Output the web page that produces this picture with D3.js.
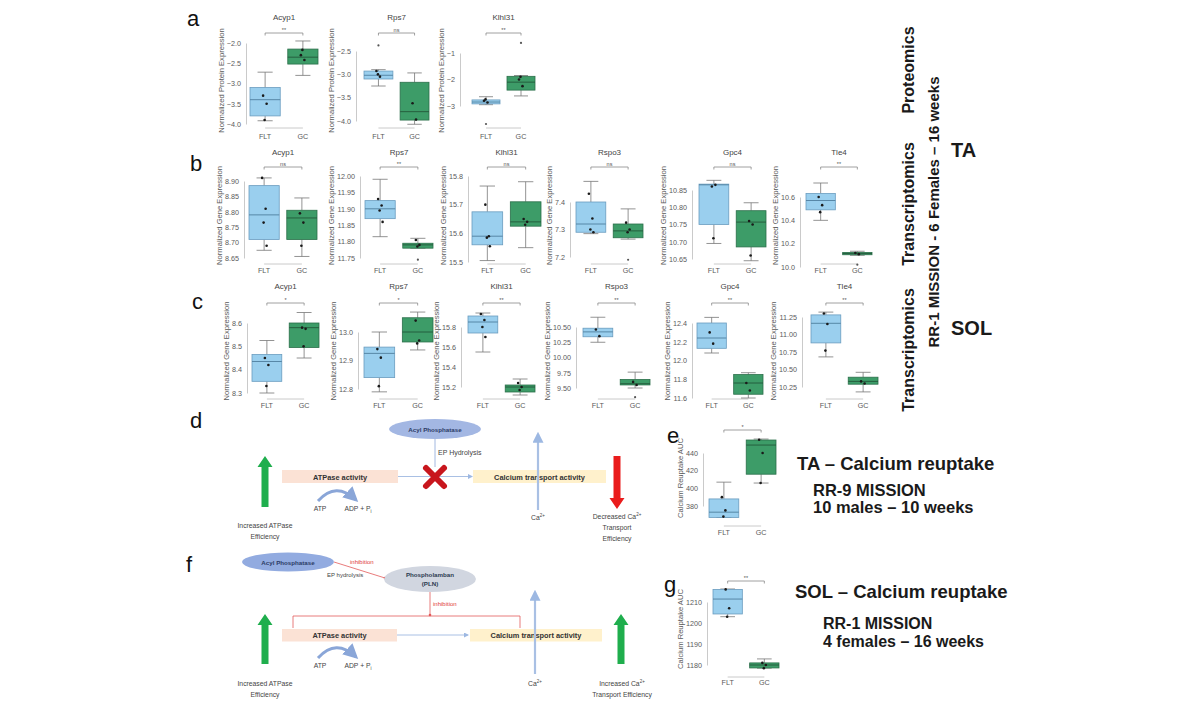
<!DOCTYPE html>
<html><head><meta charset="utf-8">
<script src="https://cdn.jsdelivr.net/npm/d3@7"></script>
<style>body{margin:0;background:#fff} svg{display:block} text{font-family:"Liberation Sans",Arial,sans-serif}</style>
</head><body><svg id="c" width="1199" height="726"></svg>
<script>
const groups = ["FLT", "GC"];

// ---- a: TA proteomics ----
const genesA = ["Acyp1", "Rps7", "Klhl31"];
const statsA = [ // [low whisker, q1, median, q3, high whisker] for FLT, GC
  [[-3.92, -3.80, -3.40, -3.10, -2.72], [-2.80, -2.52, -2.35, -2.15, -1.95]],
  [[-3.25, -3.10, -3.02, -2.93, -2.90], [-4.07, -3.98, -3.80, -3.17, -2.97]],
  [[-2.95, -2.92, -2.85, -2.77, -2.65], [-2.62, -2.40, -2.10, -1.88, -1.85]]
];
const pointsA = [
  [[-3.30, -3.50, -3.90], [-2.30, -2.42, -2.17]],
  [[-2.93, -3.05, -3.00], [-3.62, -3.97]],
  [[-2.80, -2.87, -2.75], [-2.00, -2.25, -1.90]]
];
const outliersA = [[[], []], [[-2.38], []], [[-3.68], [-0.62]]];
const ticksA = [["-4.0", "-3.5", "-3.0", "-2.5", "-2.0"], ["-4.0", "-3.5", "-3.0", "-2.5"], ["-3", "-2", "-1"]];
const sigA = ["**", "ns", "**"];

// ---- b: TA transcriptomics ----
const genesB = ["Acyp1", "Rps7", "Klhl31", "Rspo3", "Gpc4", "Tle4"];
const statsB = [
  [[8.675, 8.71, 8.79, 8.885, 8.91], [8.655, 8.71, 8.78, 8.805, 8.845]],
  [[11.815, 11.87, 11.90, 11.925, 11.99], [11.78, 11.78, 11.79, 11.795, 11.81]],
  [[15.505, 15.56, 15.59, 15.675, 15.765], [15.55, 15.625, 15.64, 15.71, 15.78]],
  [[7.285, 7.29, 7.32, 7.40, 7.475], [7.265, 7.27, 7.295, 7.32, 7.375]],
  [[10.695, 10.75, 10.865, 10.867, 10.878], [10.645, 10.685, 10.757, 10.79, 10.813]],
  [[10.40, 10.49, 10.57, 10.63, 10.72], [10.10, 10.105, 10.115, 10.125, 10.135]]
];
const pointsB = [
  [[8.91, 8.81, 8.765, 8.69], [8.795, 8.765, 8.69]],
  [[11.93, 11.91, 11.895, 11.86], [11.805, 11.79, 11.785]],
  [[15.70, 15.59, 15.585, 15.555], [15.65, 15.64, 15.63]],
  [[7.43, 7.34, 7.30, 7.29], [7.325, 7.30, 7.29]],
  [[10.86, 10.865, 10.71], [10.76, 10.75, 10.66]],
  [[10.60, 10.53, 10.47], [10.12, 10.11]]
];
const outliersB = [[[], []], [[], [11.745]], [[], []], [[], [7.19]], [[], []], [[], [10.02]]];
const ticksB = [["8.65", "8.70", "8.75", "8.80", "8.85", "8.90"], ["11.75", "11.80", "11.85", "11.90", "11.95", "12.00"],
  ["15.5", "15.6", "15.7", "15.8"], ["7.2", "7.3", "7.4"], ["10.65", "10.70", "10.75", "10.80", "10.85"], ["10.0", "10.2", "10.4", "10.6"]];
const sigB = ["ns", "**", "ns", "ns", "ns", "**"];

// ---- c: SOL transcriptomics ----
const genesC = ["Acyp1", "Rps7", "Klhl31", "Rspo3", "Gpc4", "Tle4"];
const statsC = [
  [[8.30, 8.35, 8.435, 8.465, 8.525], [8.45, 8.495, 8.58, 8.60, 8.645]],
  [[12.79, 12.84, 12.925, 12.947, 13.0], [12.937, 12.965, 13.0, 13.05, 13.07]],
  [[15.55, 15.74, 15.85, 15.91, 15.94], [15.12, 15.15, 15.20, 15.22, 15.28]],
  [[10.25, 10.34, 10.42, 10.48, 10.66], [9.50, 9.55, 9.57, 9.64, 9.76]],
  [[12.08, 12.13, 12.24, 12.40, 12.46], [11.60, 11.64, 11.76, 11.85, 11.87]],
  [[10.68, 10.88, 11.16, 11.28, 11.32], [10.18, 10.29, 10.33, 10.39, 10.46]]
];
const pointsC = [
  [[8.45, 8.42, 8.33], [8.58, 8.575, 8.50]],
  [[12.94, 12.91, 12.81], [13.04, 12.97, 12.96]],
  [[15.93, 15.87, 15.80, 15.70], [15.24, 15.20, 15.17]],
  [[10.46, 10.35], [9.60, 9.55]],
  [[12.30, 12.18], [11.76, 11.68]],
  [[11.30, 11.15, 10.77], [10.33, 10.30]]
];
const outliersC = [[[], []], [[], []], [[], []], [[], [9.35]], [[], []], [[], []]];
const ticksC = [["8.3", "8.4", "8.5", "8.6"], ["12.8", "12.9", "13.0"], ["15.2", "15.4", "15.6", "15.8"],
  ["9.50", "9.75", "10.00", "10.25", "10.50"], ["11.6", "11.8", "12.0", "12.2", "12.4"], ["10.25", "10.50", "10.75", "11.00", "11.25"]];
const sigC = ["*", "*", "**", "**", "**", "**"];

// ---- e / g: calcium reuptake ----
const statsE = [[[367, 367, 373, 388, 407], [406, 416, 449, 454.7, 455.8]]];
const pointsE = [[[390, 375, 368], [455, 440, 406]]];
const outliersE = [[[], []]];
const ticksE = [["380", "400", "420", "440"]];
const sigE = ["*"];

const statsG = [[[1203, 1204.3, 1211.4, 1216, 1216.2], [1178.5, 1178.6, 1180, 1181, 1182.9]]];
const pointsG = [[[1216, 1207, 1203], [1181, 1180, 1178.5]]];
const outliersG = [[[], []]];
const ticksG = [["1180", "1190", "1200", "1210"]];
const sigG = ["**"];

// ---- layout (pixel frames) ----
const layoutA = [{axis: 246, top: 43, bottom: 124, band: [250, 318]}, {axis: 356, top: 51, bottom: 121, band: [364, 429]}, {axis: 460, top: 53, bottom: 106, band: [472, 535]}];
const rowA = {titleY: 20, bracketY: 33, lineY: 128, labelY: 139, yLabel: "Normalized Protein Expression"};
const layoutB = [{axis: 244, top: 181, bottom: 258, band: [249, 317]}, {axis: 360, top: 176, bottom: 258, band: [365, 433]},
  {axis: 468, top: 176, bottom: 262, band: [472, 541]}, {axis: 570, top: 202, bottom: 257, band: [576, 643]},
  {axis: 692, top: 190, bottom: 259, band: [699, 766]}, {axis: 800, top: 197, bottom: 267, band: [806, 872]}];
const rowB = {titleY: 155, bracketY: 167, lineY: 264, labelY: 273, yLabel: "Normalized Gene Expression"};
const layoutC = [{axis: 247, top: 323, bottom: 393, band: [252, 319]}, {axis: 358, top: 332, bottom: 389, band: [364, 433]},
  {axis: 461, top: 327, bottom: 387, band: [468, 535]}, {axis: 576, top: 327, bottom: 388, band: [583, 650]},
  {axis: 692, top: 323, bottom: 398, band: [697, 763]}, {axis: 802, top: 317, bottom: 387, band: [811, 878]}];
const rowC = {titleY: 289, bracketY: 303, lineY: 399, labelY: 408, yLabel: "Normalized Gene Expression"};
const layoutE = [{axis: 703, top: 453, bottom: 506, band: [709, 776]}];
const rowE = {titleY: null, bracketY: 430, lineY: 526, labelY: 535, yLabel: "Calcium Reuptake AUC"};
const layoutG = [{axis: 707, top: 602, bottom: 665, band: [713, 779]}];
const rowG = {titleY: null, bracketY: 581, lineY: 677, labelY: 685, yLabel: "Calcium Reuptake AUC"};

const svg = d3.select("#c");
const FILL = {FLT: "#9acfee", GC: "#3d9c68"};
const EDGE = {FLT: "#6a9cbf", GC: "#2b6f4a"};
const MED = {FLT: "#4f7f9e", GC: "#22583a"};
const jit = [-2, 1.5, -0.5, 2.5];

function drawRow(genes, stats, points, outliers, ticks, sigs, layout, row) {
  stats.forEach((st, k) => {
    const lay = layout[k];
    const tv = ticks[k].map(Number);
    const g = svg.append("g");
    const y = d3.scaleLinear().domain([tv[0], tv[tv.length - 1]]).range([lay.bottom, lay.top]);
    const x = d3.scaleBand().domain(groups).range(lay.band).paddingInner(0.2);
    const bw = x.bandwidth();
    const cx = d => x(d) + bw / 2;

    // y axis
    const ax = g.append("g").attr("transform", `translate(${lay.axis},0)`).attr("color", "#5a5a5a")
      .call(d3.axisLeft(y).tickValues(tv).tickSize(0).tickPadding(5)
        .tickFormat((d, i) => ticks[k][i].replace("-", "\u2212")));
    ax.attr("font-family", '"Liberation Sans",Arial,sans-serif').attr("font-size", 7.2);
    ax.select(".domain").attr("stroke", "#c4c4c4").attr("stroke-width", 0.9);
    ax.selectAll("text").attr("fill", "#5a5a5a");
    const bb = ax.node().getBBox();
    const ylx = lay.axis + bb.x - 3;
    const ylc = (row.bracketY + row.lineY) / 2;
    g.append("text").attr("transform", `translate(${ylx},${ylc}) rotate(-90)`)
      .attr("text-anchor", "middle").attr("font-size", 7.6).attr("fill", "#5a5a5a").text(row.yLabel);

    // x axis
    g.append("line").attr("x1", cx("FLT")).attr("x2", cx("GC")).attr("y1", row.lineY).attr("y2", row.lineY)
      .attr("stroke", "#c4c4c4").attr("stroke-width", 0.9);
    groups.forEach(gr => g.append("text").attr("x", cx(gr)).attr("y", row.labelY).attr("text-anchor", "middle")
      .attr("font-size", 7.2).attr("fill", "#5a5a5a").text(gr));

    // title
    if (row.titleY !== null && genes) {
      g.append("text").attr("x", (lay.band[0] + lay.band[1]) / 2).attr("y", row.titleY).attr("text-anchor", "middle")
        .attr("font-size", 8).attr("fill", "#444").text(genes[k]);
    }

    // significance bracket
    const b = row.bracketY;
    g.append("path").attr("d", `M${cx("FLT")},${b + 2.5}V${b}H${cx("GC")}V${b + 2.5}`)
      .attr("fill", "none").attr("stroke", "#888").attr("stroke-width", 0.8);
    g.append("text").attr("x", (cx("FLT") + cx("GC")) / 2).attr("y", b - 1.5).attr("text-anchor", "middle")
      .attr("font-size", 5.5).attr("fill", "#555").text(sigs[k]);

    // boxes
    groups.forEach((gr, i) => {
      const [lo, q1, md, q3, hi] = st[i];
      const c = cx(gr);
      g.append("line").attr("x1", c).attr("x2", c).attr("y1", y(lo)).attr("y2", y(q1)).attr("stroke", "#777").attr("stroke-width", 0.8);
      g.append("line").attr("x1", c).attr("x2", c).attr("y1", y(q3)).attr("y2", y(hi)).attr("stroke", "#777").attr("stroke-width", 0.8);
      [lo, hi].forEach(v => g.append("line").attr("x1", c - bw / 4).attr("x2", c + bw / 4).attr("y1", y(v)).attr("y2", y(v))
        .attr("stroke", "#777").attr("stroke-width", 0.8));
      g.append("rect").attr("x", x(gr)).attr("width", bw).attr("y", y(q3)).attr("height", Math.max(1.5, y(q1) - y(q3)))
        .attr("fill", FILL[gr]).attr("stroke", EDGE[gr]).attr("stroke-width", 0.8);
      g.append("line").attr("x1", x(gr)).attr("x2", x(gr) + bw).attr("y1", y(md)).attr("y2", y(md))
        .attr("stroke", MED[gr]).attr("stroke-width", 0.9);
      points[k][i].forEach((v, j) => g.append("circle").attr("cx", c + jit[j % 4]).attr("cy", y(v)).attr("r", 1.3).attr("fill", "#1a1a1a"));
      outliers[k][i].forEach(v => g.append("circle").attr("cx", c).attr("cy", y(v)).attr("r", 1.1).attr("fill", "#555"));
    });
  });
}

drawRow(genesA, statsA, pointsA, outliersA, ticksA, sigA, layoutA, rowA);
drawRow(genesB, statsB, pointsB, outliersB, ticksB, sigB, layoutB, rowB);
drawRow(genesC, statsC, pointsC, outliersC, ticksC, sigC, layoutC, rowC);
drawRow(null, statsE, pointsE, outliersE, ticksE, sigE, layoutE, rowE);
drawRow(null, statsG, pointsG, outliersG, ticksG, sigG, layoutG, rowG);

// ---- panel letters ----
[["a", 187, 26], ["b", 190, 171], ["c", 192, 309], ["d", 190, 428], ["e", 667, 443], ["f", 186, 572], ["g", 664, 592]]
  .forEach(([t, xx, yy]) => svg.append("text").attr("x", xx).attr("y", yy).attr("font-size", 22).attr("fill", "#111").text(t));

// ---- right-side labels ----
function vtext(t, xx, yy, fs) {
  svg.append("text").attr("transform", `translate(${xx},${yy}) rotate(-90)`).attr("text-anchor", "middle")
    .attr("font-size", fs).attr("font-weight", "bold").attr("fill", "#1a1a1a").text(t);
}
vtext("Proteomics", 914, 70, 16);
vtext("Transcriptomics", 914, 204, 16);
vtext("Transcriptomics", 914, 350, 16);
vtext("RR-1 MISSION - 6 Females \u2013 16 weeks", 939, 212, 15);
svg.append("text").attr("x", 951).attr("y", 157).attr("font-size", 20).attr("font-weight", "bold").attr("fill", "#1a1a1a").text("TA");
svg.append("text").attr("x", 951).attr("y", 335).attr("font-size", 20).attr("font-weight", "bold").attr("fill", "#1a1a1a").text("SOL");

function btext(t, xx, yy, fs) {
  svg.append("text").attr("x", xx).attr("y", yy).attr("font-size", fs).attr("font-weight", "bold").attr("fill", "#1a1a1a").text(t);
}
btext("TA \u2013 Calcium reuptake", 797, 470, 18.5);
btext("RR-9 MISSION", 813, 496, 16.5);
btext("10 males \u2013 10 weeks", 813, 513, 16.5);
btext("SOL \u2013 Calcium reuptake", 795, 598, 18.5);
btext("RR-1 MISSION", 823, 629, 16);
btext("4 females \u2013 16 weeks", 823, 647, 16);

// ---- diagrams ----
const defs = svg.append("defs");
function marker(id, color) {
  defs.append("marker").attr("id", id).attr("viewBox", "0 0 10 10").attr("refX", 8).attr("refY", 5)
    .attr("markerWidth", 5).attr("markerHeight", 5).attr("orient", "auto")
    .append("path").attr("d", "M0,0L10,5L0,10z").attr("fill", color);
}
marker("mb", "#9db8e2");
marker("mc", "#8aa6d8");

function fatArrow(xx, y1, y2, color) { // from y1 (tail) to y2 (head)
  const dir = y2 < y1 ? -1 : 1;
  const hh = 11, sw = 3.5, hw = 7.5;
  const yh = y2 - dir * hh;
  svg.append("path").attr("d", `M${xx - sw},${y1}V${yh}H${xx - hw}L${xx},${y2}L${xx + hw},${yh}H${xx + sw}V${y1}Z`).attr("fill", color);
}
function small(t, xx, yy, opts = {}) {
  const el = svg.append("text").attr("x", xx).attr("y", yy).attr("font-size", opts.fs || 6.8)
    .attr("text-anchor", opts.anchor || "middle").attr("fill", opts.fill || "#444");
  if (opts.bold) el.attr("font-weight", "bold");
  el.text(t);
  return el;
}
function ca(xx, yy, prefix) {
  const el = svg.append("text").attr("x", xx).attr("y", yy).attr("font-size", 6.8).attr("text-anchor", "middle").attr("fill", "#444");
  el.append("tspan").text(prefix + "Ca");
  el.append("tspan").attr("font-size", 4.5).attr("dy", -3).text("2+");
}
function atp(yy) {
  svg.append("path").attr("d", `M318,${yy - 10} Q336,${yy - 30} 356,${yy - 11}`).attr("fill", "none")
    .attr("stroke", "#8aa6d8").attr("stroke-width", 3).attr("marker-end", "url(#mc)");
  small("ATP", 320, yy, {fs: 6.8});
  const el = svg.append("text").attr("x", 358).attr("y", yy).attr("font-size", 6.8).attr("text-anchor", "middle").attr("fill", "#444");
  el.append("tspan").text("ADP + P");
  el.append("tspan").attr("font-size", 4.5).attr("dy", 1.5).text("i");
}

// panel d
svg.append("ellipse").attr("cx", 435).attr("cy", 429).attr("rx", 46).attr("ry", 10).attr("fill", "#a3b7e3");
small("Acyl Phosphatase", 435, 431.5, {fs: 6.2, bold: true, fill: "#2c3b66"});
svg.append("line").attr("x1", 435).attr("x2", 435).attr("y1", 439).attr("y2", 467).attr("stroke", "#8aa6d8").attr("stroke-width", 0.8);
small("EP Hydrolysis", 438, 455, {anchor: "start", fs: 7});
svg.append("rect").attr("x", 282).attr("y", 470).attr("width", 116).attr("height", 13).attr("fill", "#fbe2d5");
small("ATPase activity", 340, 479.5, {fs: 7.4, bold: true, fill: "#333"});
svg.append("rect").attr("x", 473).attr("y", 470).attr("width", 133).attr("height", 13).attr("fill", "#fff1cc");
small("Calcium transport activity", 539.5, 479.5, {fs: 7.4, bold: true, fill: "#333"});
svg.append("line").attr("x1", 398).attr("x2", 472).attr("y1", 476.5).attr("y2", 476.5).attr("stroke", "#a9c0e4").attr("stroke-width", 1).attr("marker-end", "url(#mb)");
svg.append("path").attr("d", "M426,468L444,486M444,468L426,486").attr("stroke", "#c8161d").attr("stroke-width", 6).attr("stroke-linecap", "round");
svg.append("line").attr("x1", 538).attr("x2", 538).attr("y1", 510).attr("y2", 434).attr("stroke", "#a9c0e4").attr("stroke-width", 2.2).attr("marker-end", "url(#mb)");
ca(538, 520, "");
fatArrow(265, 507, 456, "#1fae4d");
fatArrow(617, 456, 509, "#ea1c1c");
atp(511);
small("Increased ATPase", 265, 528);
small("Efficiency", 265, 539);
ca(617, 519, "Decreased ");
small("Transport", 617, 530);
small("Efficiency", 617, 541);

// panel f
svg.append("ellipse").attr("cx", 288).attr("cy", 562).attr("rx", 46).attr("ry", 9.5).attr("fill", "#92abe0");
small("Acyl Phosphatase", 288, 564.5, {fs: 6.2, bold: true, fill: "#2c3b66"});
svg.append("line").attr("x1", 334).attr("y1", 562).attr("x2", 385).attr("y2", 578).attr("stroke", "#e25b5b").attr("stroke-width", 0.8);
svg.append("circle").attr("cx", 385).attr("cy", 578).attr("r", 1.3).attr("fill", "#e25b5b");
small("inhibition", 350, 564, {anchor: "start", fs: 6, fill: "#e03a3a"});
small("EP hydrolysis", 327, 577, {anchor: "start", fs: 6});
svg.append("ellipse").attr("cx", 430).attr("cy", 579).attr("rx", 46).attr("ry", 13).attr("fill", "#d1d6e0");
small("Phospholamban", 430, 577, {fs: 6.2, bold: true, fill: "#2c3b50"});
small("(PLN)", 430, 586, {fs: 6.2, bold: true, fill: "#2c3b50"});
svg.append("line").attr("x1", 430).attr("x2", 430).attr("y1", 592).attr("y2", 616).attr("stroke", "#e25b5b").attr("stroke-width", 0.8);
svg.append("circle").attr("cx", 430).attr("cy", 615).attr("r", 1.3).attr("fill", "#e25b5b");
small("inhibition", 433, 606, {anchor: "start", fs: 6, fill: "#e03a3a"});
svg.append("path").attr("d", "M293,628V616H520V628").attr("fill", "none").attr("stroke", "#e25b5b").attr("stroke-width", 0.8);
svg.append("rect").attr("x", 282).attr("y", 629).attr("width", 115).attr("height", 12.5).attr("fill", "#fbe2d5");
small("ATPase activity", 339.5, 638, {fs: 7.4, bold: true, fill: "#333"});
svg.append("rect").attr("x", 470).attr("y", 629).attr("width", 132).attr("height", 12.5).attr("fill", "#fff1cc");
small("Calcium transport activity", 536, 638, {fs: 7.4, bold: true, fill: "#333"});
svg.append("line").attr("x1", 397).attr("x2", 468).attr("y1", 635).attr("y2", 635).attr("stroke", "#a9c0e4").attr("stroke-width", 1).attr("marker-end", "url(#mb)");
svg.append("line").attr("x1", 535).attr("x2", 535).attr("y1", 674).attr("y2", 592).attr("stroke", "#a9c0e4").attr("stroke-width", 2.2).attr("marker-end", "url(#mb)");
ca(535, 686, "");
fatArrow(265, 664, 614, "#1fae4d");
fatArrow(621, 664, 614, "#1fae4d");
atp(668);
small("Increased ATPase", 265, 686);
small("Efficiency", 265, 697);
ca(622, 686, "Increased ");
small("Transport Efficiency", 622, 697);
</script></body></html>
